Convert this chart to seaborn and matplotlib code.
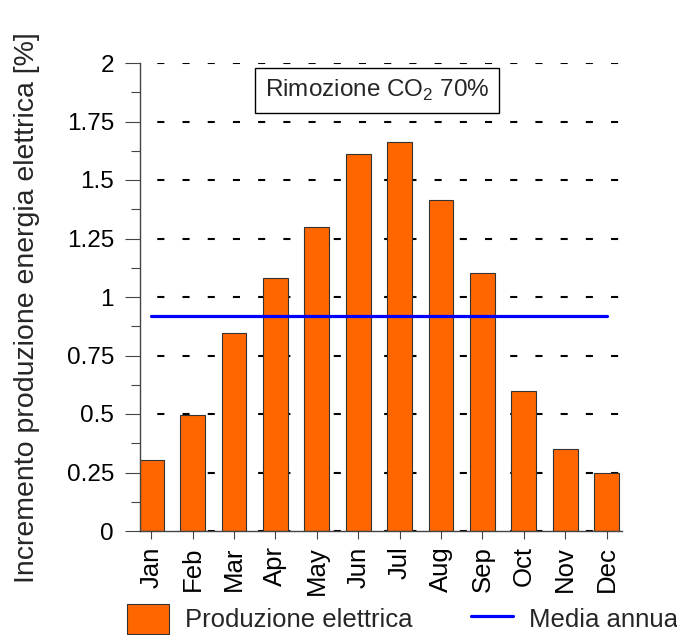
import matplotlib
matplotlib.use('Agg')
import matplotlib.pyplot as plt
import matplotlib.patches as mpatches
from matplotlib.lines import Line2D
from matplotlib.ticker import MultipleLocator
import seaborn as sns
import pandas as pd

# data
mesi = ["Jan", "Feb", "Mar", "Apr", "May", "Jun",
        "Jul", "Aug", "Sep", "Oct", "Nov", "Dec"]
incremento = [0.303, 0.496, 0.846, 1.081, 1.299, 1.611,
              1.662, 1.415, 1.103, 0.598, 0.350, 0.248]
media_annua = 0.92
y_ticks = [0, 0.25, 0.5, 0.75, 1, 1.25, 1.5, 1.75, 2]
y_labels = ["0", "0.25", "0.5", "0.75", "1", "1.25", "1.5", "1.75", "2"]

sns.set_style("white")
plt.rcParams['font.family'] = ['Liberation Sans', 'DejaVu Sans']
plt.rcParams['mathtext.fontset'] = 'custom'
plt.rcParams['mathtext.rm'] = 'Liberation Sans'
fs = 17.5

df = pd.DataFrame({"mese": mesi, "val": incremento})

fig = plt.figure(figsize=(6.77, 6.35), dpi=100)
ax = fig.add_axes([140/677, 104/635, 482/677, 468/635])

sns.barplot(data=df, x="mese", y="val", color="#FF6600", saturation=1,
            width=0.6, edgecolor="#333333", linewidth=0.8, ax=ax, zorder=2)
ax.plot(range(len(mesi)), [media_annua] * len(mesi), color="#0000FF", lw=2.3, zorder=3)

ax.set_xlim(-0.27, 11.37)
ax.set_ylim(0, 2)
ax.set_yticks(y_ticks)
ax.set_yticklabels(y_labels)
ax.yaxis.set_minor_locator(MultipleLocator(0.125))
ax.tick_params(axis='y', which='major', direction='out', length=10.8, width=0.8,
               colors='#444444', labelcolor='black', labelsize=fs, pad=8, left=True)
ax.tick_params(axis='y', which='minor', direction='out', length=6.5, width=0.8,
               colors='#444444', left=True)
ax.tick_params(axis='x', direction='out', length=6, width=0.8, colors='#444444',
               labelcolor='black', labelsize=18.5, pad=5, bottom=True, labelrotation=90)

ax.set_axisbelow(True)
ax.yaxis.grid(True, color='black', lw=1.5, linestyle=(3.8, (3.4, 8.7)))
ax.xaxis.grid(False)

for s in ['top', 'right']:
    ax.spines[s].set_visible(False)
for s in ['left', 'bottom']:
    ax.spines[s].set_color('#444444')
    ax.spines[s].set_linewidth(1)

ax.set_xlabel("")
ax.set_ylabel("Incremento produzione energia elettrica [%]", fontsize=20.5)
ax.yaxis.set_label_coords(-0.208, 0.478)

ax.text(0.4917, 0.941, r"Rimozione CO$_\mathregular{2}$ 70%", transform=ax.transAxes,
        ha='center', va='center', fontsize=fs,
        bbox=dict(boxstyle='square,pad=0.42', facecolor='white', edgecolor='black', lw=1))

handles = [mpatches.Patch(facecolor="#FF6600", edgecolor="#333333", lw=0.8),
           Line2D([], [], color="#0000FF", lw=2.3)]
fig.legend(handles, ["Produzione elettrica", "Media annua"], loc='lower left',
           bbox_to_anchor=(127/677, 0.002), ncol=2, frameon=False, fontsize=18.5,
           handlelength=1.63, handleheight=1.4, handletextpad=0.62, columnspacing=2.3,
           borderaxespad=0, borderpad=0)

fig.savefig("out.png", dpi=100)
